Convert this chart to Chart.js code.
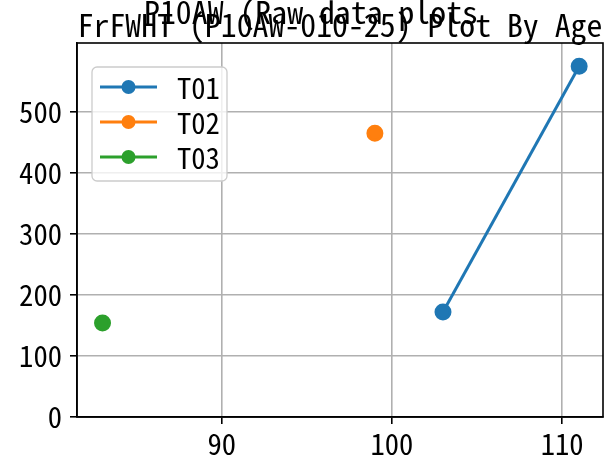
<!DOCTYPE html>
<html>
<head>
<meta charset="utf-8">
<script src="https://cdn.jsdelivr.net/npm/chart.js@4.4.1/dist/chart.umd.min.js"></script>
<style>
html,body{margin:0;padding:0;background:#fff;}
#wrap{width:612px;height:468px;position:relative;}
</style>
</head>
<body>
<div id="wrap"><canvas id="c" width="612" height="468"></canvas></div>
<script>
// ---- data ----
const seriesNames = ["T01", "T02", "T03"];
const t01Age = [103, 111];
const t01Val = [172, 575];
const t02Age = [99];
const t02Val = [465];
const t03Age = [83];
const t03Val = [154];
const xTicks = [90, 100, 110];
const yTicks = [0, 100, 200, 300, 400, 500];
const titleLine1 = "P10AW (Raw data plots";
const titleLine2 = "FrFWHT (P10AW-010-25) Plot By Age";
const colors = ["#1f77b4", "#ff7f0e", "#2ca02c"];

const FONT_FAMILY = '"Noto Sans Mono CJK JP", "DejaVu Sans Mono", monospace';
function sizeForCharWidth(cw) {
  const m = document.createElement('canvas').getContext('2d');
  m.font = '100px ' + FONT_FAMILY;
  const w = m.measureText('0').width;
  return cw * 100 / w;
}
const tickSize = sizeForCharWidth(14.3);
const titleSize = sizeForCharWidth(15.9);

function pts(xs, ys) { return xs.map((x, i) => ({x: x, y: ys[i]})); }

const datasets = [
  {label: seriesNames[0], data: pts(t01Age, t01Val)},
  {label: seriesNames[1], data: pts(t02Age, t02Val)},
  {label: seriesNames[2], data: pts(t03Age, t03Val)}
].map((d, i) => Object.assign(d, {
  borderColor: colors[i], backgroundColor: colors[i],
  pointBackgroundColor: colors[i], pointBorderColor: colors[i],
  pointRadius: 7, pointHoverRadius: 7, borderWidth: 3, showLine: true, fill: false
}));

const framePlugin = {
  id: 'frame',
  afterDraw(chart) {
    const ctx = chart.ctx, a = chart.chartArea;
    ctx.save();
    // frame
    ctx.strokeStyle = '#000'; ctx.lineWidth = 1.6;
    ctx.strokeRect(a.left, a.top, a.right - a.left, a.bottom - a.top);
    // legend
    const lx = 92, ly = 67, lw = 135, lh = 114, r = 5;
    ctx.beginPath();
    ctx.moveTo(lx + r, ly);
    ctx.arcTo(lx + lw, ly, lx + lw, ly + lh, r);
    ctx.arcTo(lx + lw, ly + lh, lx, ly + lh, r);
    ctx.arcTo(lx, ly + lh, lx, ly, r);
    ctx.arcTo(lx, ly, lx + lw, ly, r);
    ctx.closePath();
    ctx.fillStyle = 'rgba(255,255,255,0.8)'; ctx.fill();
    ctx.strokeStyle = '#cccccc'; ctx.lineWidth = 1.3; ctx.stroke();
    chart.data.datasets.forEach((ds, i) => {
      const y = 87 + i * 35;
      ctx.strokeStyle = ds.borderColor; ctx.lineWidth = 3;
      ctx.beginPath(); ctx.moveTo(100, y); ctx.lineTo(157, y); ctx.stroke();
      ctx.fillStyle = ds.borderColor;
      ctx.beginPath(); ctx.arc(128.5, y, 7, 0, Math.PI * 2); ctx.fill();
      ctx.fillStyle = '#000';
      ctx.font = tickSize + 'px ' + FONT_FAMILY;
      ctx.textAlign = 'left'; ctx.textBaseline = 'middle';
      ctx.fillText(ds.label, 177, y + 1);
    });
    // titles
    ctx.fillStyle = '#000';
    ctx.font = titleSize + 'px ' + FONT_FAMILY;
    ctx.textAlign = 'center'; ctx.textBaseline = 'alphabetic';
    ctx.fillText(titleLine1, 311, 24);
    ctx.fillText(titleLine2, (a.left + a.right) / 2, 37);
    ctx.restore();
  }
};

new Chart(document.getElementById('c'), {
  type: 'scatter',
  data: {datasets: datasets},
  options: {
    responsive: false, animation: false, devicePixelRatio: 1,
    layout: {padding: {top: 43, right: 9, left: 0, bottom: 0}, autoPadding: false},
    plugins: {legend: {display: false}, tooltip: {enabled: false}, title: {display: false}},
    scales: {
      x: {
        type: 'linear', min: 81.5, max: 112.4,
        afterBuildTicks: s => { s.ticks = xTicks.map(v => ({value: v})); },
        afterFit: s => { s.height = 51; },
        grid: {color: '#b0b0b0', lineWidth: 1.6, tickColor: '#000', tickLength: 7, tickWidth: 1.6, drawOnChartArea: true},
        border: {color: '#000', width: 1.6},
        ticks: {color: '#000', font: {family: FONT_FAMILY, size: tickSize}, padding: 3, maxRotation: 0, autoSkip: false}
      },
      y: {
        type: 'linear', min: 0, max: 613,
        afterBuildTicks: s => { s.ticks = yTicks.map(v => ({value: v})); },
        afterFit: s => { s.width = 77; },
        grid: {color: '#b0b0b0', lineWidth: 1.6, tickColor: '#000', tickLength: 7, tickWidth: 1.6},
        border: {color: '#000', width: 1.6},
        ticks: {color: '#000', font: {family: FONT_FAMILY, size: tickSize}, padding: 8, autoSkip: false}
      }
    }
  },
  plugins: [framePlugin]
});
</script>
</body>
</html>
